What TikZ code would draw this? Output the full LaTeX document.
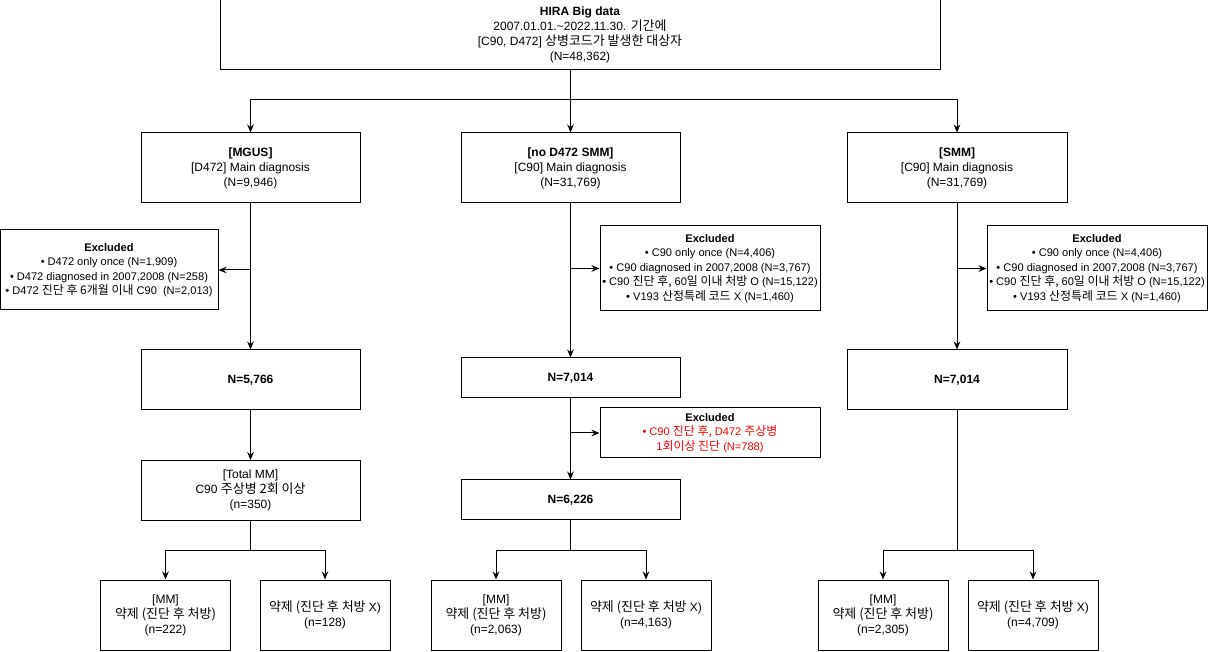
\documentclass[tikz,border=0pt]{standalone}
\usepackage{fontspec}
\setmainfont{Liberation Sans}
\newfontfamily\krfont[Scale=1.08]{Noto Sans CJK KR}
\newcommand{\kr}[1]{{\krfont #1}}
\usetikzlibrary{arrows.meta, calc, math}

\begin{document}
\begin{tikzpicture}[x=0.75pt, y=-0.75pt, line width=0.75pt, >={Stealth[length=6pt,width=5pt]},
  box/.style={draw, align=center, inner sep=0pt, font=\fontsize{9}{11.25}\selectfont},
  exbox/.style={box, font=\fontsize{8.3}{10.9}\selectfont}]

\tikzmath{
			\xa = 250.5; \xb = 570.5; \xc = 957;
			\ysplit = 100; \ybot = 550;
         }

\useasboundingbox (0,0) rectangle (1208,652);

% top box
\node[box, minimum width=540pt, minimum height=52.5pt] (top) at (580,35) {\textbf{HIRA Big data}\\2007.01.01.\textasciitilde2022.11.30. \kr{기간에}\\{}[C90, D472] \kr{상병코드가 발생한 대상자}\\(N=48,362)};

% groups
\node[box, minimum width=164.25pt, minimum height=52.5pt] (mgus) at (\xa,168) {\textbf{[MGUS]}\\{}[D472] Main diagnosis\\(N=9,946)};
\node[box, minimum width=164.25pt, minimum height=52.5pt] (nosmm) at (\xb,168) {\textbf{[no D472 SMM]}\\{}[C90] Main diagnosis\\(N=31,769)};
\node[box, minimum width=165pt, minimum height=52.5pt] (smm) at (\xc,168) {\textbf{[SMM]}\\{}[C90] Main diagnosis\\(N=31,769)};

% excluded
\node[exbox, minimum width=163.5pt, minimum height=60pt] (exa) at (109,270) {\textbf{Excluded}\\• D472 only once (N=1,909)\\• D472 diagnosed in 2007,2008 (N=258)\\• D472 \kr{진단 후 6개월 이내} C90\ \ (N=2,013)};
\node[exbox, minimum width=165pt, minimum height=63.75pt] (exb) at (710,268.5) {\textbf{Excluded}\\• C90 only once (N=4,406)\\• C90 diagnosed in 2007,2008 (N=3,767)\\• C90 \kr{진단 후,} 60\kr{일 이내 처방} O (N=15,122)\\• V193 \kr{산정특례 코드} X (N=1,460)};
\node[exbox, minimum width=165pt, minimum height=63.75pt] (exc) at (1097,268.5) {\textbf{Excluded}\\• C90 only once (N=4,406)\\• C90 diagnosed in 2007,2008 (N=3,767)\\• C90 \kr{진단 후,} 60\kr{일 이내 처방} O (N=15,122)\\• V193 \kr{산정특례 코드} X (N=1,460)};
\node[exbox, minimum width=165pt, minimum height=37.5pt] (exr) at (710,433) {\textbf{Excluded}\\\textcolor{red}{• C90 \kr{진단 후,} D472 \kr{주상병}}\\\textcolor{red}{1\kr{회이상 진단} (N=788)}};

% counts
\node[box, minimum width=164.25pt, minimum height=45pt] (na) at (\xa,380) {\textbf{N=5,766}};
\node[box, minimum width=164.25pt, minimum height=30pt] (nb) at (\xb,378) {\textbf{N=7,014}};
\node[box, minimum width=165pt, minimum height=45pt] (nc) at (\xc,380) {\textbf{N=7,014}};
\node[box, minimum width=164.25pt, minimum height=30pt] (nb2) at (\xb,500) {\textbf{N=6,226}};
\node[box, minimum width=164.25pt, minimum height=45pt] (total) at (\xa,490.5) {[Total MM]\\C90 \kr{주상병 2회 이상}\\(n=350)};

% drugs
\node[box, minimum width=97.5pt, minimum height=52.5pt] (da1) at (165.5,615) {[MM]\\\kr{약제 (진단 후 처방)}\\(n=222)};
\node[box, minimum width=97.5pt, minimum height=52.5pt] (da2) at (325,615) {\kr{약제 (진단 후 처방} X)\\(n=128)};
\node[box, minimum width=97.5pt, minimum height=52.5pt] (db1) at (496,615) {[MM]\\\kr{약제 (진단 후 처방)}\\(n=2,063)};
\node[box, minimum width=97.5pt, minimum height=52.5pt] (db2) at (646,615) {\kr{약제 (진단 후 처방} X)\\(n=4,163)};
\node[box, minimum width=97.5pt, minimum height=52.5pt] (dc1) at (883,615) {[MM]\\\kr{약제 (진단 후 처방)}\\(n=2,305)};
\node[box, minimum width=97.5pt, minimum height=52.5pt] (dc2) at (1033,615) {\kr{약제 (진단 후 처방} X)\\(n=4,709)};

% split points
\coordinate (sp) at (\xb,\ysplit);
\coordinate (sa) at (\xa,\ybot);
\coordinate (sb) at (\xb,\ybot);
\coordinate (sc) at (\xc,\ybot);

\draw (top.south -| sp) -- (sp);
\draw[->] (sp) -| (mgus.north);
\draw[->] (sp) -- (nosmm.north);
\draw[->] (sp) -| (smm.north);

\draw[->] (mgus.south) -- (na.north);
\draw[->] (mgus.south |- exa.east) -- (exa.east);
\draw[->] (na.south) -- (total.north);
\draw (total.south) -- (sa);
\draw[->] (sa) -| (da1.north);
\draw[->] (sa) -| (da2.north);

\draw[->] (nosmm.south) -- (nb.north);
\draw[->] (nosmm.south |- exb.west) -- (exb.west);
\draw[->] (nb.south) -- (nb2.north);
\draw[->] (nb.south |- exr.west) -- (exr.west);
\draw (nb2.south) -- (sb);
\draw[->] (sb) -| (db1.north);
\draw[->] (sb) -| (db2.north);

\draw[->] (smm.south) -- (nc.north);
\draw[->] (smm.south |- exc.west) -- (exc.west);
\draw (nc.south) -- (sc);
\draw[->] (sc) -| (dc1.north);
\draw[->] (sc) -| (dc2.north);

\end{tikzpicture}
\end{document}
